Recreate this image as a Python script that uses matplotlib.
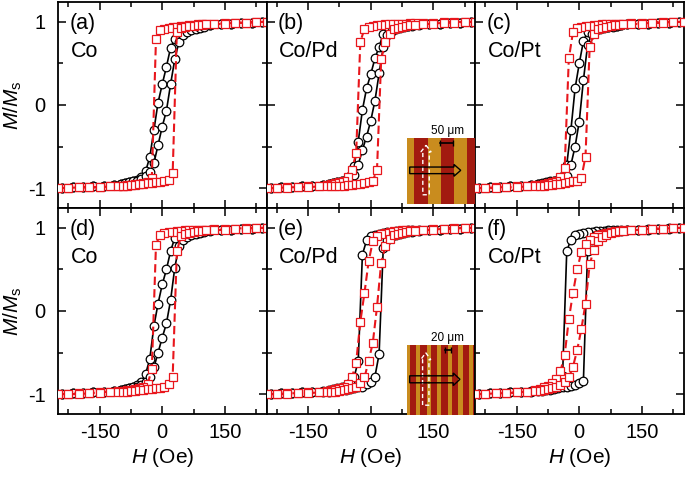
import matplotlib
matplotlib.use("Agg")
import matplotlib.pyplot as plt
from matplotlib.patches import FancyArrow

plt.rcParams['font.family'] = ['Liberation Sans', 'DejaVu Sans']
plt.rcParams['mathtext.fontset'] = 'custom'
plt.rcParams['mathtext.rm'] = 'Liberation Sans'
plt.rcParams['mathtext.it'] = 'Liberation Sans:italic'
plt.rcParams['axes.unicode_minus'] = False

RED = '#e8161c'
ORANGE = '#c98c1e'
BROWN = '#a21a10'

# field steps (Oe): circles and squares were measured on shifted grids
H_circ = [-240, -215, -190, -165, -140, -115, -100, -90, -80, -70, -60, -50, -40, -30, -20, -10, 0,
          10, 20, 30, 40, 50, 60, 70, 80, 90, 100, 115, 140, 165, 190, 215, 240]
H_sq = [-250, -225, -200, -175, -150, -125, -105, -95, -85, -75, -65, -55, -45, -35, -25, -15, -5,
        5, 15, 25, 35, 45, 55, 65, 75, 85, 95, 105, 125, 150, 175, 200, 225, 250]

# M/Ms values, listed in order of increasing H. "down" = branch coming from +H, "up" = from -H
# (a) Co
circ_a_down = [-1.00, -0.99, -0.99, -0.98, -0.97, -0.96, -0.95, -0.94, -0.93, -0.92, -0.90, -0.87, -0.80,
               -0.63, -0.30, 0.03, 0.25, 0.46, 0.69, 0.79, 0.85, 0.88, 0.90, 0.92, 0.93, 0.94, 0.95,
               0.96, 0.97, 0.98, 0.99, 0.99, 1.00]
circ_a_up = [-1.00, -0.99, -0.99, -0.98, -0.97, -0.96, -0.95, -0.94, -0.93, -0.92, -0.91, -0.89, -0.86,
             -0.81, -0.70, -0.48, -0.26, -0.07, 0.25, 0.55, 0.76, 0.84, 0.88, 0.90, 0.92, 0.93, 0.94,
             0.96, 0.97, 0.98, 0.99, 0.99, 1.00]
sq_a_down = [-1.00, -1.00, -0.99, -0.99, -0.99, -0.98, -0.97, -0.97, -0.96, -0.96, -0.95, -0.95, -0.94,
             -0.93, -0.88, 0.80, 0.90, 0.92, 0.93, 0.94, 0.94, 0.95, 0.95, 0.96, 0.96, 0.97, 0.97, 0.98,
             0.98, 0.99, 0.99, 0.99, 1.00, 1.00]
sq_a_up = [-1.00, -1.00, -0.99, -0.99, -0.99, -0.98, -0.98, -0.97, -0.97, -0.96, -0.96, -0.95, -0.95,
           -0.94, -0.94, -0.93, -0.93, -0.92, -0.90, -0.82, 0.88, 0.93, 0.94, 0.95, 0.95, 0.96, 0.96,
           0.97, 0.97, 0.98, 0.99, 0.99, 1.00, 1.00]

# (b) Co/Pd
circ_b_down = [-1.00, -0.99, -0.99, -0.98, -0.97, -0.96, -0.95, -0.94, -0.93, -0.92, -0.90, -0.86, -0.74,
               -0.44, -0.06, 0.20, 0.37, 0.56, 0.70, 0.86, 0.90, 0.92, 0.93, 0.94, 0.95, 0.95, 0.96,
               0.97, 0.97, 0.98, 0.99, 0.99, 1.00]
circ_b_up = [-1.00, -0.99, -0.99, -0.98, -0.97, -0.96, -0.95, -0.94, -0.93, -0.92, -0.91, -0.89, -0.84,
             -0.72, -0.54, -0.38, -0.19, 0.05, 0.38, 0.70, 0.84, 0.89, 0.91, 0.93, 0.94, 0.95, 0.95,
             0.96, 0.97, 0.98, 0.99, 0.99, 1.00]
sq_b_down = [-1.00, -1.00, -0.99, -0.99, -0.98, -0.97, -0.96, -0.95, -0.94, -0.93, -0.91, -0.87, -0.78,
             -0.58, 0.76, 0.92, 0.94, 0.95, 0.96, 0.96, 0.97, 0.97, 0.97, 0.98, 0.98, 0.98, 0.99, 0.99,
             0.99, 0.99, 1.00, 1.00, 1.00, 1.00]
sq_b_up = [-1.00, -1.00, -1.00, -0.99, -0.99, -0.98, -0.98, -0.98, -0.97, -0.97, -0.97, -0.96, -0.96,
           -0.95, -0.95, -0.94, -0.93, -0.91, -0.78, 0.55, 0.76, 0.86, 0.91, 0.93, 0.94, 0.95, 0.96,
           0.96, 0.97, 0.98, 0.99, 0.99, 1.00, 1.00]

# (c) Co/Pt
circ_c_down = [-1.00, -0.99, -0.99, -0.98, -0.97, -0.96, -0.95, -0.94, -0.93, -0.92, -0.91, -0.90, -0.86,
               -0.72, -0.30, 0.20, 0.50, 0.77, 0.88, 0.91, 0.92, 0.93, 0.94, 0.94, 0.95, 0.95, 0.96,
               0.97, 0.97, 0.98, 0.99, 0.99, 1.00]
circ_c_up = [-1.00, -0.99, -0.99, -0.98, -0.97, -0.96, -0.95, -0.95, -0.94, -0.93, -0.92, -0.91, -0.90,
             -0.86, -0.72, -0.50, -0.20, 0.30, 0.72, 0.86, 0.90, 0.92, 0.93, 0.94, 0.94, 0.95, 0.96,
             0.97, 0.97, 0.98, 0.99, 0.99, 1.00]
sq_c_down = [-1.00, -1.00, -0.99, -0.99, -0.98, -0.97, -0.96, -0.96, -0.95, -0.94, -0.93, -0.91, -0.87,
             -0.76, 0.56, 0.88, 0.93, 0.94, 0.95, 0.95, 0.96, 0.96, 0.97, 0.97, 0.97, 0.98, 0.98, 0.98,
             0.99, 0.99, 0.99, 1.00, 1.00, 1.00]
sq_c_up = [-1.00, -1.00, -1.00, -0.99, -0.99, -0.98, -0.98, -0.97, -0.97, -0.96, -0.96, -0.95, -0.95,
           -0.94, -0.93, -0.92, -0.91, -0.88, -0.62, 0.70, 0.86, 0.91, 0.93, 0.94, 0.95, 0.96, 0.96,
           0.97, 0.97, 0.98, 0.99, 0.99, 1.00, 1.00]

# (d) Co
circ_d_down = [-1.00, -0.99, -0.99, -0.98, -0.97, -0.96, -0.95, -0.94, -0.93, -0.92, -0.89, -0.85, -0.76,
               -0.58, -0.18, 0.09, 0.32, 0.50, 0.72, 0.88, 0.90, 0.92, 0.93, 0.94, 0.94, 0.95, 0.96,
               0.97, 0.97, 0.98, 0.99, 0.99, 1.00]
circ_d_up = [-1.00, -0.99, -0.99, -0.98, -0.97, -0.96, -0.95, -0.94, -0.93, -0.92, -0.91, -0.89, -0.85,
             -0.79, -0.68, -0.50, -0.32, -0.15, 0.13, 0.52, 0.78, 0.86, 0.89, 0.91, 0.93, 0.94, 0.95,
             0.96, 0.97, 0.98, 0.99, 0.99, 1.00]
sq_d_down = [-1.00, -1.00, -0.99, -0.99, -0.98, -0.97, -0.96, -0.96, -0.95, -0.95, -0.94, -0.93, -0.92,
             -0.88, -0.70, 0.80, 0.92, 0.94, 0.95, 0.95, 0.96, 0.96, 0.97, 0.97, 0.97, 0.98, 0.98, 0.98,
             0.99, 0.99, 0.99, 1.00, 1.00, 1.00]
sq_d_up = [-1.00, -1.00, -1.00, -0.99, -0.99, -0.98, -0.98, -0.97, -0.97, -0.96, -0.96, -0.95, -0.95,
           -0.94, -0.94, -0.93, -0.93, -0.92, -0.88, -0.79, 0.72, 0.90, 0.93, 0.94, 0.95, 0.96, 0.96,
           0.97, 0.97, 0.98, 0.99, 0.99, 1.00, 1.00]

# (e) Co/Pd
circ_e_down = [-1.00, -0.99, -0.99, -0.98, -0.97, -0.96, -0.95, -0.94, -0.93, -0.92, -0.90, -0.87, -0.80,
               -0.60, 0.68, 0.85, 0.90, 0.92, 0.93, 0.94, 0.95, 0.95, 0.96, 0.96, 0.96, 0.97, 0.97,
               0.97, 0.98, 0.98, 0.99, 0.99, 1.00]
circ_e_up = [-1.00, -0.99, -0.99, -0.98, -0.98, -0.97, -0.97, -0.96, -0.96, -0.95, -0.95, -0.94, -0.93,
             -0.92, -0.91, -0.88, -0.85, -0.79, -0.52, 0.76, 0.86, 0.90, 0.92, 0.93, 0.94, 0.95, 0.95,
             0.96, 0.97, 0.98, 0.99, 0.99, 1.00]
sq_e_down = [-1.00, -1.00, -0.99, -0.99, -0.98, -0.97, -0.96, -0.95, -0.94, -0.93, -0.91, -0.88, -0.80,
             -0.62, -0.13, 0.22, 0.60, 0.84, 0.90, 0.93, 0.94, 0.95, 0.96, 0.96, 0.97, 0.97, 0.97, 0.98,
             0.98, 0.99, 0.99, 1.00, 1.00, 1.00]
sq_e_up = [-1.00, -1.00, -1.00, -0.99, -0.99, -0.98, -0.98, -0.97, -0.97, -0.96, -0.95, -0.94, -0.93,
           -0.91, -0.87, -0.80, -0.60, -0.38, 0.05, 0.58, 0.78, 0.87, 0.91, 0.93, 0.94, 0.95, 0.96,
           0.96, 0.97, 0.98, 0.99, 0.99, 1.00, 1.00]

# (f) Co/Pt
circ_f_down = [-1.00, -0.99, -0.99, -0.98, -0.97, -0.96, -0.95, -0.94, -0.93, -0.92, -0.90, -0.87, -0.78,
               0.72, 0.86, 0.91, 0.93, 0.94, 0.95, 0.95, 0.96, 0.96, 0.96, 0.97, 0.97, 0.97, 0.98,
               0.98, 0.98, 0.99, 0.99, 1.00, 1.00]
circ_f_up = [-1.00, -0.99, -0.99, -0.98, -0.98, -0.97, -0.96, -0.96, -0.95, -0.95, -0.94, -0.93, -0.92,
             -0.91, -0.90, -0.89, -0.87, -0.84, 0.72, 0.86, 0.91, 0.93, 0.94, 0.95, 0.95, 0.96, 0.96,
             0.97, 0.98, 0.98, 0.99, 0.99, 1.00]
sq_f_down = [-1.00, -1.00, -0.99, -0.99, -0.98, -0.97, -0.95, -0.94, -0.92, -0.90, -0.87, -0.82, -0.72,
             -0.53, -0.10, 0.22, 0.50, 0.71, 0.81, 0.86, 0.89, 0.91, 0.93, 0.94, 0.95, 0.96, 0.96, 0.97,
             0.97, 0.98, 0.99, 0.99, 1.00, 1.00]
sq_f_up = [-1.00, -1.00, -0.99, -0.99, -0.98, -0.97, -0.96, -0.96, -0.95, -0.94, -0.93, -0.91, -0.89,
           -0.86, -0.80, -0.67, -0.47, -0.22, 0.09, 0.56, 0.74, 0.84, 0.89, 0.92, 0.94, 0.95, 0.96,
           0.96, 0.97, 0.98, 0.99, 0.99, 1.00, 1.00]

tags = ['(a)', '(b)', '(c)', '(d)', '(e)', '(f)']
samples = ['Co', 'Co/Pd', 'Co/Pt', 'Co', 'Co/Pd', 'Co/Pt']
circ_down = [circ_a_down, circ_b_down, circ_c_down, circ_d_down, circ_e_down, circ_f_down]
circ_up = [circ_a_up, circ_b_up, circ_c_up, circ_d_up, circ_e_up, circ_f_up]
sq_down = [sq_a_down, sq_b_down, sq_c_down, sq_d_down, sq_e_down, sq_f_down]
sq_up = [sq_a_up, sq_b_up, sq_c_up, sq_d_up, sq_e_up, sq_f_up]

W, HT = 685, 478
fig = plt.figure(figsize=(W / 100, HT / 100), dpi=100)


def px_axes(x0, y0, w, h):
    # position given in pixels from the top-left corner
    return fig.add_axes([x0 / W, 1 - (y0 + h) / HT, w / W, h / HT])


col_x = [58, 266.5, 475]
row_y = [2, 208]
axes = []
for i in range(6):
    r, c = divmod(i, 3)
    ax = px_axes(col_x[c], row_y[r], 208.5, 206)
    axes.append(ax)

    ax.plot(H_circ[::-1] + H_circ, circ_down[i][::-1] + circ_up[i], color='black', lw=1.2,
            marker='o', ms=6.2, mfc='white', mec='black', mew=0.9, zorder=2)
    ax.plot(H_sq[::-1] + H_sq, sq_down[i][::-1] + sq_up[i], color=RED, lw=1.5, ls=(0, (4, 2)),
            marker='s', ms=5.4, mfc='white', mec=RED, mew=0.9, zorder=3)

    ax.set_xlim(-250, 250)
    ax.set_ylim(-1.24, 1.24)
    ax.set_xticks([-150, 0, 150])
    ax.set_xticks([-225, -75, 75, 225], minor=True)
    ax.set_yticks([-1, 0, 1])
    ax.set_yticks([-0.5, 0.5], minor=True)
    ax.tick_params(which='both', direction='in', top=True, right=True, width=1.1, labelsize=14.5)
    ax.tick_params(which='major', length=6)
    ax.tick_params(which='minor', length=3.5)
    ax.tick_params(axis='x', pad=6.5)
    ax.tick_params(axis='y', pad=9)
    for sp in ax.spines.values():
        sp.set_linewidth(1.3)

    if c == 0:
        ax.set_ylabel(r'$M/M_\mathrm{s}$', fontsize=15)
        ax.yaxis.set_label_coords(-0.165, 0.5)
    else:
        ax.tick_params(labelleft=False)
    if r == 1:
        ax.set_xlabel(r'$H$ (Oe)', fontsize=15, labelpad=3)
    else:
        ax.tick_params(labelbottom=False)

    ax.text(0.055, 0.87, tags[i], transform=ax.transAxes, fontsize=15.5, va='baseline')
    ax.text(0.06, 0.735, samples[i], transform=ax.transAxes, fontsize=15.5, va='baseline')


def stripe_inset(x0, y0, w, h, start, period, red_w, label, bar):
    ins = px_axes(x0, y0, w, h)
    ins.set_xlim(0, 1)
    ins.set_ylim(0, 1)
    ins.set_facecolor(ORANGE)
    s = start
    while s < 1:
        ins.axvspan(s, min(s + red_w, 1), color=BROWN, lw=0)
        s += period
    # white dashed arrow (vertical) and black outlined arrow (horizontal)
    ins.add_patch(FancyArrow(0.28, 0.14, 0, 0.75, width=0.095, head_width=0.15, head_length=0.1,
                             length_includes_head=True, fc='none', ec='white', lw=1.0, ls=(0, (3, 2))))
    ins.add_patch(FancyArrow(0.04, 0.51, 0.75, 0, width=0.1, head_width=0.18, head_length=0.1,
                             length_includes_head=True, fc='none', ec='black', lw=1.0))
    ins.plot(bar, [0.93, 0.93], color='black', lw=1.2, marker='|', ms=4, mew=1.0, clip_on=False)
    ins.text(0.6, 1.02, label, fontsize=8.5, ha='center', va='bottom', clip_on=False)
    ins.set_xticks([])
    ins.set_yticks([])
    for sp in ins.spines.values():
        sp.set_visible(False)
    return ins


stripe_inset(407, 138, 68, 66, 0.107, 0.391, 0.196, '50 μm', [0.48, 0.67])
stripe_inset(407, 345, 67, 70, 0.04, 0.158, 0.095, '20 μm', [0.57, 0.65])

fig.savefig('out.png', dpi=100)
